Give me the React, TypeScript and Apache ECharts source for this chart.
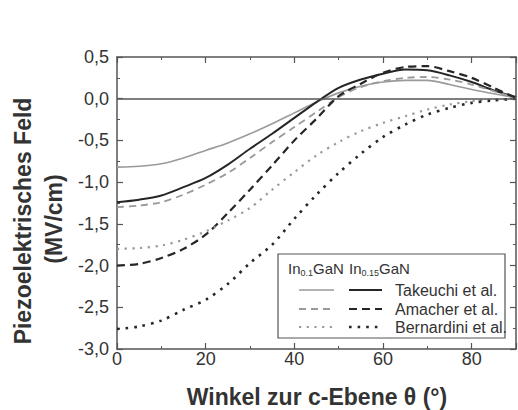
import React, { useEffect, useRef } from "react";
import * as echarts from "echarts";

const theta = [0, 5, 10, 15, 20, 25, 30, 35, 40, 45, 50, 55, 60, 65, 70, 75, 80, 85, 90];
const takeuchi01 = [-0.82, -0.81, -0.78, -0.71, -0.62, -0.53, -0.42, -0.3, -0.17, -0.04, 0.07, 0.15, 0.2, 0.22, 0.22, 0.17, 0.11, 0.06, 0.01];
const takeuchi015 = [-1.24, -1.21, -1.16, -1.06, -0.95, -0.79, -0.6, -0.42, -0.23, -0.04, 0.13, 0.23, 0.3, 0.35, 0.34, 0.28, 0.2, 0.1, 0.02];
const amacher01 = [-1.3, -1.28, -1.24, -1.15, -1.03, -0.89, -0.71, -0.52, -0.34, -0.16, 0.02, 0.14, 0.21, 0.25, 0.26, 0.23, 0.17, 0.09, 0.01];
const amacher015 = [-2.0, -1.98, -1.91, -1.8, -1.63, -1.37, -1.09, -0.8, -0.5, -0.24, 0.03, 0.18, 0.31, 0.38, 0.39, 0.33, 0.25, 0.13, 0.01];
const bernardini01 = [-1.8, -1.79, -1.76, -1.69, -1.59, -1.46, -1.31, -1.09, -0.88, -0.68, -0.52, -0.39, -0.29, -0.21, -0.13, -0.07, -0.03, -0.01, 0];
const bernardini015 = [-2.76, -2.73, -2.66, -2.53, -2.41, -2.22, -1.97, -1.75, -1.44, -1.15, -0.89, -0.66, -0.46, -0.31, -0.19, -0.11, -0.05, -0.02, 0];

const legendAuthors = ["Takeuchi et al.", "Amacher et al.", "Bernardini et al."];
const legendAlloys = ["0.1", "0.15"];

const LIGHT = "#9a9a9a";
const DARK = "#262626";
const AXIS = "#555555";
const FONT = "'Liberation Sans', Arial, sans-serif";

export default function App() {
  const ref = useRef<HTMLDivElement>(null);
  useEffect(() => {
    if (!ref.current) return;
    const chart = echarts.init(ref.current, undefined, { renderer: "svg" });
    const mk = (arr: number[]) => theta.map((t, i) => [t, arr[i]]);
    const styles = [
      { name: "Takeuchi et al. In0.1GaN", data: takeuchi01, color: LIGHT, width: 1.6, type: "solid" as any },
      { name: "Takeuchi et al. In0.15GaN", data: takeuchi015, color: DARK, width: 2, type: "solid" as any },
      { name: "Amacher et al. In0.1GaN", data: amacher01, color: LIGHT, width: 1.8, type: [7, 5] },
      { name: "Amacher et al. In0.15GaN", data: amacher015, color: DARK, width: 2.2, type: [8, 5] },
      { name: "Bernardini et al. In0.1GaN", data: bernardini01, color: LIGHT, width: 2.2, type: [2.2, 5.5] },
      { name: "Bernardini et al. In0.15GaN", data: bernardini015, color: DARK, width: 2.6, type: [2.6, 6] },
    ];
    const series: any[] = styles.map((s, i) => ({
      name: s.name,
      type: "line",
      data: mk(s.data),
      showSymbol: false,
      smooth: 0.3,
      lineStyle: { color: s.color, width: s.width, type: s.type, cap: "butt" },
      z: 3,
      ...(i === 0
        ? {
            markLine: {
              silent: true,
              symbol: "none",
              label: { show: false },
              lineStyle: { color: AXIS, width: 1.5, type: "solid" },
              data: [{ yAxis: 0 }],
            },
          }
        : {}),
    }));

    const axisCommon = {
      axisLine: { show: true, onZero: false, lineStyle: { color: AXIS, width: 1.5 } },
      axisTick: { show: true, inside: true, length: 6, lineStyle: { color: AXIS, width: 1.2 } },
      minorTick: { show: true, splitNumber: 2, length: 3, lineStyle: { color: AXIS, width: 1 } },
      splitLine: { show: false },
      minorSplitLine: { show: false },
    };

    const legX = 278, legY = 254, legW = 227, legH = 84;
    const rowsY = [290, 309, 327];
    const graphics: any[] = [
      {
        type: "rect",
        shape: { x: legX, y: legY, width: legW, height: legH },
        style: { fill: "#ffffff", stroke: AXIS, lineWidth: 1.2 },
        z: 10,
      },
      {
        type: "text",
        x: 288,
        y: 268,
        z: 11,
        style: {
          text: `In{s|${legendAlloys[0]}}GaN`,
          font: `15px ${FONT}`,
          fill: "#333",
          verticalAlign: "middle",
          rich: { s: { fontSize: 9, fontFamily: FONT, fill: "#333", padding: [10, 0, 0, 0] } },
        },
      },
      {
        type: "text",
        x: 349,
        y: 268,
        z: 11,
        style: {
          text: `In{s|${legendAlloys[1]}}GaN`,
          font: `15px ${FONT}`,
          fill: "#333",
          verticalAlign: "middle",
          rich: { s: { fontSize: 9, fontFamily: FONT, fill: "#333", padding: [10, 0, 0, 0] } },
        },
      },
    ];
    legendAuthors.forEach((a, i) => {
      const y = rowsY[i];
      const ls = styles[i * 2];
      const ds = styles[i * 2 + 1];
      graphics.push({
        type: "line",
        z: 11,
        shape: { x1: 299, y1: y, x2: 334, y2: y },
        style: { stroke: ls.color, lineWidth: ls.width, lineDash: Array.isArray(ls.type) ? ls.type : null },
      });
      graphics.push({
        type: "line",
        z: 11,
        shape: { x1: 349, y1: y, x2: 382, y2: y },
        style: { stroke: ds.color, lineWidth: ds.width, lineDash: Array.isArray(ds.type) ? ds.type : null },
      });
      graphics.push({
        type: "text",
        z: 11,
        x: 395,
        y: y,
        style: { text: a, font: `16px ${FONT}`, fill: "#333", verticalAlign: "middle" },
      });
    });
    graphics.push({
      type: "text",
      x: 23,
      y: 221,
      rotation: Math.PI / 2,
      style: {
        text: "Piezoelektrisches Feld",
        font: `bold 23px ${FONT}`,
        fill: "#333",
        align: "center",
        verticalAlign: "middle",
      },
    });
    graphics.push({
      type: "text",
      x: 54,
      y: 219,
      rotation: Math.PI / 2,
      style: {
        text: "(MV/cm)",
        font: `bold 23px ${FONT}`,
        fill: "#333",
        align: "center",
        verticalAlign: "middle",
      },
    });
    graphics.push({
      type: "text",
      x: 317,
      y: 397,
      style: {
        text: "Winkel zur c-Ebene θ (°)",
        font: `bold 23px ${FONT}`,
        fill: "#333",
        align: "center",
        verticalAlign: "middle",
      },
    });

    chart.setOption({
      animation: false,
      backgroundColor: "#ffffff",
      textStyle: { fontFamily: FONT },
      grid: { left: 117, right: 2, top: 57, bottom: 61, containLabel: false },
      xAxis: [
        {
          type: "value",
          min: 0,
          max: 90,
          interval: 20,
          position: "bottom",
          ...axisCommon,
          axisLabel: {
            fontSize: 18,
            color: "#333",
            fontFamily: FONT,
            margin: 1,
            showMaxLabel: false,
          },
        },
        {
          type: "value",
          min: 0,
          max: 90,
          interval: 20,
          position: "top",
          ...axisCommon,
          axisLabel: { show: false },
        },
      ],
      yAxis: [
        {
          type: "value",
          min: -3,
          max: 0.5,
          interval: 0.5,
          position: "left",
          ...axisCommon,
          axisLabel: {
            fontSize: 18,
            color: "#333",
            fontFamily: FONT,
            margin: 8,
            formatter: (v: number) => v.toFixed(1).replace(".", ","),
          },
        },
        {
          type: "value",
          min: -3,
          max: 0.5,
          interval: 0.5,
          position: "right",
          ...axisCommon,
          axisLabel: { show: false },
        },
      ],
      series,
      graphic: graphics,
    });
    return () => chart.dispose();
  }, []);
  return <div ref={ref} style={{ width: 518, height: 410, position: "absolute", left: 0, top: 0 }} />;
}
